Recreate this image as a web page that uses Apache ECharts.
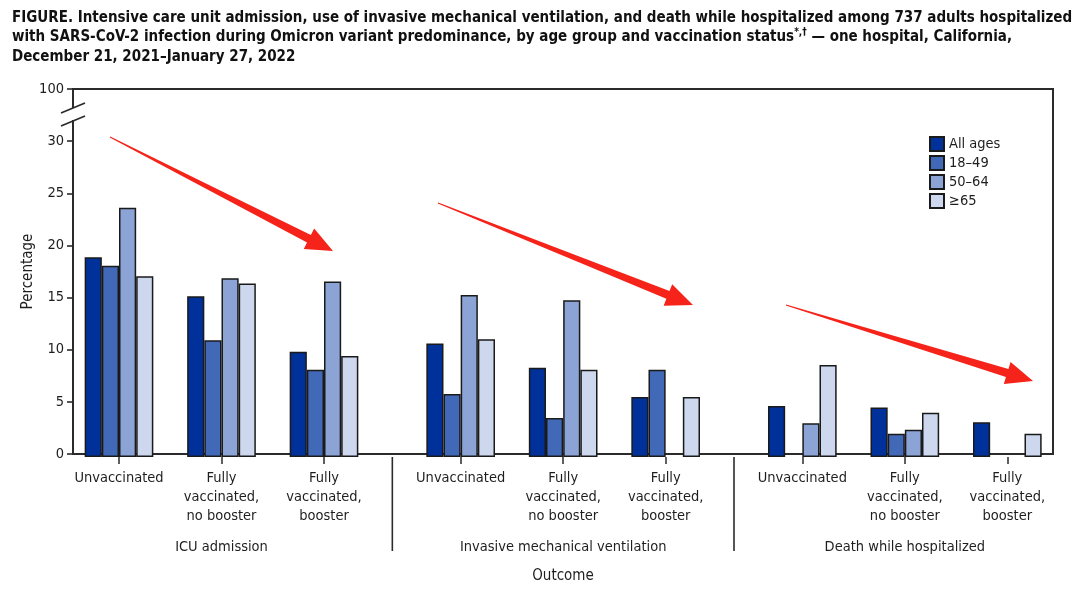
<!DOCTYPE html>
<html>
<head>
<meta charset="utf-8">
<script src="https://cdn.jsdelivr.net/npm/echarts@6/dist/echarts.min.js"></script>
<style>
html,body{margin:0;padding:0;background:#fff;}
#c{width:1080px;height:589px;}
</style>
</head>
<body>
<div id="c"></div>
<script>
// ---------- DATA ----------
const outcomes = ['ICU admission', 'Invasive mechanical ventilation', 'Death while hospitalized'];
const statuses = ['Unvaccinated', 'Fully\nvaccinated,\nno booster', 'Fully\nvaccinated,\nbooster'];
const ageGroups = ['All ages', '18–49', '50–64', '≥65'];
// values in order: ICU (3 statuses), IMV (3 statuses), Death (3 statuses)
const allAges  = [19.0, 15.3, 10.0,  10.8, 8.5, 5.7,  4.85, 4.7, 3.3];
const age18_49 = [18.2, 11.1, 8.3,   6.0, 3.7, 8.3,   0,    2.2, 0];
const age50_64 = [23.7, 17.0, 16.7,  15.4, 14.9, 0,   3.2,  2.6, 0];
const age65    = [17.2, 16.5, 9.6,   11.2, 8.3, 5.7,  8.75, 4.2, 2.2];
const seriesValues = [allAges, age18_49, age50_64, age65];
const yTickValues = [0, 5, 10, 15, 20, 25, 30, 35];
const yTickLabels = ['0', '5', '10', '15', '20', '25', '30', '100'];

// ---------- STYLE / LAYOUT ----------
const colors = ['#00309a', '#4268b8', '#8ba3d5', '#cdd8ee'];
const FONT = "'Liberation Sans Narrow', 'DejaVu Sans Condensed', 'Noto Sans', sans-serif";
const TXT = '#1e1e1e';
const AX = '#2b2b2b';
const frameLeft = 73, frameRight = 1053, plotTop = 89, bottomY = 457;
const BW = 102.5;                  // category band width
const GAP = BW / 3;                // gap between outcome groups
const firstLeft = 67.75;
const groupLeft = g => firstLeft + g * (3 * BW + GAP);
const sepX = g => groupLeft(g) + 3 * BW + GAP / 2;

const chart = echarts.init(document.getElementById('c'), null, {renderer: 'canvas'});

const grids = [{
  left: frameLeft, top: plotTop, width: frameRight - frameLeft, height: bottomY - plotTop,
  show: true, borderColor: AX, borderWidth: 2, backgroundColor: 'transparent'
}];
const xAxes = [{
  gridIndex: 0, type: 'value', min: 0, max: 1,
  axisLine: {show: false}, axisTick: {show: false}, axisLabel: {show: false}, splitLine: {show: false},
  name: 'Outcome', nameLocation: 'middle', nameGap: 115, nameMoveOverlap: false,
  nameTextStyle: {fontFamily: FONT, fontSize: 15, color: TXT}
}];
const yAxes = [{
  gridIndex: 0, type: 'value', min: 0, max: 35, interval: 5,
  axisLine: {show: false},
  axisTick: {show: true, inside: false, length: 6, lineStyle: {color: AX, width: 1.6}},
  axisLabel: {
    fontFamily: FONT, fontSize: 14.5, color: TXT, margin: 9,
    formatter: v => { const i = yTickValues.indexOf(v); return i >= 0 ? yTickLabels[i] : ''; }
  },
  splitLine: {show: false},
  name: 'Percentage', nameLocation: 'middle', nameGap: 37, nameMoveOverlap: false,
  nameTextStyle: {fontFamily: FONT, fontSize: 15, color: TXT}
}];
const series = [];

outcomes.forEach((o, g) => {
  const gi = g + 1;
  grids.push({left: groupLeft(g), top: plotTop, width: 3 * BW, height: bottomY - plotTop});
  xAxes.push({
    gridIndex: gi, type: 'category', data: statuses,
    axisLine: {show: false},
    axisTick: {show: true, alignWithLabel: true, length: 7, lineStyle: {color: AX, width: 1.5}},
    axisLabel: {fontFamily: FONT, fontSize: 14.5, color: TXT, lineHeight: 19, margin: 12, interval: 0},
    name: o, nameLocation: 'middle', nameGap: 83, nameMoveOverlap: false,
    nameTextStyle: {fontFamily: FONT, fontSize: 14.5, color: TXT}
  });
  yAxes.push({
    gridIndex: gi, type: 'value', min: 0, max: 35, show: false, splitLine: {show: false}
  });
  ageGroups.forEach((a, k) => {
    series.push({
      name: a, type: 'bar', xAxisIndex: gi, yAxisIndex: gi,
      // a zero value means no bar is drawn
      data: seriesValues[k].slice(g * 3, g * 3 + 3).map(v => (v === 0 ? '-' : v)),
      barGap: 0, barCategoryGap: '33%',
      itemStyle: {color: colors[k], borderColor: '#1a1a1a', borderWidth: 1.5},
      emphasis: {disabled: true}, animation: false
    });
  });
});

// decorative arrow annotation polygons (red hand-drawn arrows)
function arrowPoly(x1, y1, x2, y2) {
  const dx = x2 - x1, dy = y2 - y1, L = Math.hypot(dx, dy);
  const ux = dx / L, uy = dy / L, nx = -uy, ny = ux;
  const hl = 27, hw = 11.5, w0 = 0.5, w1 = 4.2;
  const bx = x2 - ux * hl, by = y2 - uy * hl;
  return [
    [x1 + nx * w0, y1 + ny * w0], [bx + nx * w1, by + ny * w1], [bx + nx * hw, by + ny * hw],
    [x2, y2], [bx - nx * hw, by - ny * hw], [bx - nx * w1, by - ny * w1], [x1 - nx * w0, y1 - ny * w0]
  ];
}
const arrows = [[110, 137, 333, 251], [438, 203, 693, 305], [786, 305, 1033, 381]];

const graphic = [];
// group separators below the axis
[0, 1].forEach(g => {
  graphic.push({type: 'line', shape: {x1: sepX(g), y1: bottomY, x2: sepX(g), y2: 551},
    style: {stroke: AX, lineWidth: 1.6}, z: 10});
});
// axis break
graphic.push({type: 'rect', shape: {x: 68, y: 108, width: 10, height: 12}, style: {fill: '#fff'}, z: 20});
graphic.push({type: 'line', shape: {x1: 61, y1: 113, x2: 85, y2: 103}, style: {stroke: AX, lineWidth: 1.8}, z: 21});
graphic.push({type: 'line', shape: {x1: 61, y1: 126, x2: 85, y2: 116}, style: {stroke: AX, lineWidth: 1.8}, z: 21});
arrows.forEach(a => graphic.push({type: 'polygon', shape: {points: arrowPoly(...a)}, style: {fill: '#f5231a'}, z: 30}));

chart.setOption({
  backgroundColor: '#fff',
  animation: false,
  title: {
    text: 'FIGURE. Intensive care unit admission, use of invasive mechanical ventilation, and death while hospitalized among 737 adults hospitalized\nwith SARS-CoV-2 infection during Omicron variant predominance, by age group and vaccination status{sup|*,†} — one hospital, California,\nDecember 21, 2021–January 27, 2022',
    left: 7, top: 3,
    textStyle: {
      fontFamily: FONT, fontSize: 15, fontWeight: 'bold', color: '#111', lineHeight: 19.5,
      rich: {sup: {fontFamily: FONT, fontSize: 10, fontWeight: 'bold', color: '#111', verticalAlign: 'top', lineHeight: 19.5, padding: [0, 0, 6, 0]}}
    }
  },
  legend: {
    data: ageGroups, orient: 'vertical', left: 929, top: 136, padding: 0,
    itemWidth: 14, itemHeight: 14, itemGap: 3, icon: 'rect',
    textStyle: {fontFamily: FONT, fontSize: 14.5, color: TXT},
    selectedMode: false
  },
  grid: grids, xAxis: xAxes, yAxis: yAxes, series: series, graphic: graphic
});
</script>
</body>
</html>
